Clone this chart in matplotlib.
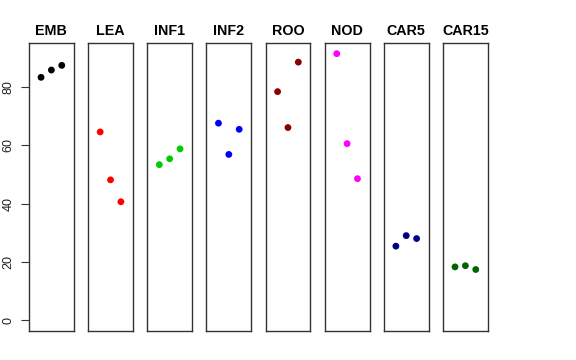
import matplotlib
matplotlib.use('Agg')
import matplotlib.pyplot as plt

# tissue groups and their three replicate values
groups = ['EMB', 'LEA', 'INF1', 'INF2', 'ROO', 'NOD', 'CAR5', 'CAR15']
emb = [83.2, 85.7, 87.3]
lea = [64.5, 48.1, 40.6]
inf1 = [53.3, 55.3, 58.7]
inf2 = [67.5, 56.8, 65.4]
roo = [78.3, 66.0, 88.4]
nod = [91.3, 60.5, 48.5]
car5 = [25.4, 29.0, 28.0]
car15 = [18.3, 18.7, 17.4]
colors = ['black', 'red', '#00CD00', 'blue', '#8B0000', 'magenta', '#00008B', '#006400']
yticks = [0, 20, 40, 60, 80]

values = [emb, lea, inf1, inf2, roo, nod, car5, car15]
reps = [1, 2, 3]

plt.rcParams['font.family'] = ['Liberation Sans', 'DejaVu Sans']

W, H = 576, 360
fig = plt.figure(figsize=(W / 100, H / 100), dpi=100)

ymin, ymax = 0, 91.3
ypad = (ymax - ymin) * 0.04
xpad = 4 * 0.04

for i, (name, vals, col) in enumerate(zip(groups, values, colors)):
    left = 29 + i * 59.14
    ax = fig.add_axes([left / W, 1 - 331 / H, 44.8 / W, 288 / H])
    ax.scatter(reps, vals, s=24, color=col, edgecolors='none', zorder=3)
    ax.set_xlim(0 - xpad, 4 + xpad)
    ax.set_ylim(ymin - ypad, ymax + ypad)
    ax.set_xticks([])
    for sp in ax.spines.values():
        sp.set_color('#333333')
        sp.set_linewidth(1.0)
    ax.set_title(name, fontsize=10.3, fontweight='bold', pad=6)
    if i == 0:
        ax.set_yticks(yticks)
        ax.set_yticklabels([str(t) for t in yticks], rotation=90, va='center', fontsize=9)
        ax.tick_params(axis='y', length=5.5, width=0.8, pad=5, colors='#333333', labelcolor='#222222')
    else:
        ax.set_yticks([])

fig.savefig('out.png', dpi=100)
